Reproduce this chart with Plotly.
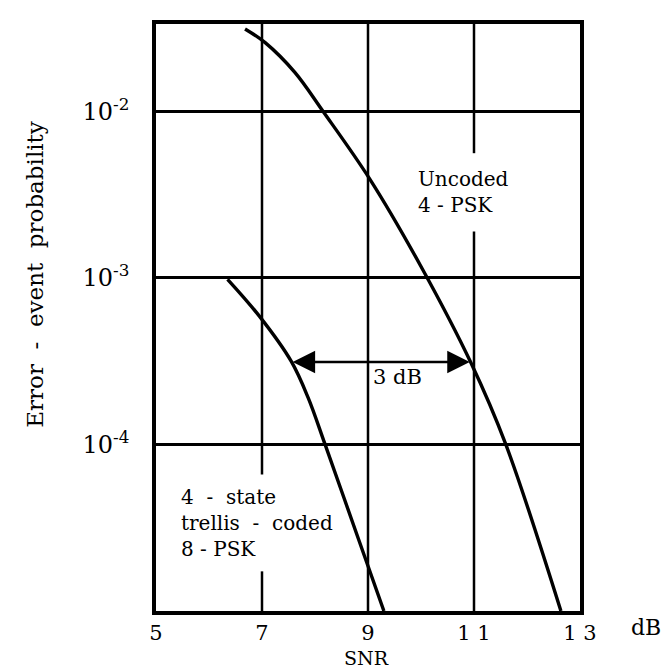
import math
import plotly.graph_objects as go

# ---- data ----
uncoded_snr = [6.68, 7.06, 7.62, 8.15, 9.04, 10.0, 10.94, 11.60, 12.64]
uncoded_p = [3.12e-2, 2.58e-2, 1.71e-2, 1.0e-2, 3.89e-3, 1.17e-3, 3.1e-4, 1.0e-4, 1.0e-5]

coded_snr = [6.35, 6.95, 7.55, 7.87, 8.19, 8.80, 9.30]
coded_p = [9.8e-4, 5.89e-4, 3.16e-4, 1.91e-4, 1.0e-4, 2.82e-5, 1.0e-5]

x_tickvals = [5, 7, 9, 11, 13]
x_ticktext = ["5", "7", "9", "1 1", "1 3"]
y_tickvals = [1e-2, 1e-3, 1e-4]
y_ticktext = ["10<sup>-2</sup>", "10<sup>-3</sup>", "10<sup>-4</sup>"]

arrow_x = [7.55, 10.92]
arrow_p = 3.12e-4

x_range = [5, 13]
y_range = [1e-5, 3.34e-2]

FONT = "DejaVu Serif"
NB = "\u00a0"

fig = go.Figure()

# vertical grid lines (broken where the labels sit)
grid_x = [7, 7, None, 7, 7, None, 9, 9, None, 11, 11, None, 11, 11]
grid_y = [y_range[1], 6.6e-5, None, 1.73e-5, y_range[0], None,
          y_range[1], y_range[0], None,
          y_range[1], 5.6e-3, None, 1.9e-3, y_range[0]]
fig.add_trace(go.Scatter(x=grid_x, y=grid_y, mode="lines",
                         line=dict(color="black", width=2.5),
                         hoverinfo="skip", showlegend=False))

fig.add_trace(go.Scatter(x=uncoded_snr, y=uncoded_p, mode="lines",
                         line=dict(color="black", width=3.4, shape="spline", smoothing=1.0),
                         name="Uncoded 4-PSK", showlegend=False))
fig.add_trace(go.Scatter(x=coded_snr, y=coded_p, mode="lines",
                         line=dict(color="black", width=3.4, shape="spline", smoothing=1.0),
                         name="4-state trellis-coded 8-PSK", showlegend=False))

L, R, T, B = 148, 572, 13, 603
W, H = R - L, B - T


def px(x):
    return (x - L) / W


def py(y):
    return (B - y) / H


annotations = [
    dict(text="", x=arrow_x[1], y=math.log10(arrow_p), xref="x", yref="y",
         ax=arrow_x[0], ay=math.log10(arrow_p), axref="x", ayref="y",
         showarrow=True, arrowhead=2, arrowside="end+start", arrowsize=1.8,
         arrowwidth=2.5, arrowcolor="black", standoff=0, startstandoff=0),
    dict(text="3 dB", x=px(363), y=py(354), xref="paper", yref="paper",
         xanchor="left", yanchor="top", showarrow=False,
         font=dict(family=FONT, size=21, color="black")),
    dict(text="Uncoded<br>4 - PSK", x=px(408), y=py(155), xref="paper", yref="paper",
         xanchor="left", yanchor="top", showarrow=False, align="left",
         font=dict(family=FONT, size=20, color="black")),
    dict(text=f"4 {NB}-{NB} state<br>trellis {NB}-{NB} coded<br>8 - PSK",
         x=px(171), y=py(474), xref="paper", yref="paper",
         xanchor="left", yanchor="top", showarrow=False, align="left",
         font=dict(family=FONT, size=20, color="black")),
    dict(text="SNR", x=px(358), y=py(650), xref="paper", yref="paper",
         xanchor="center", yanchor="middle", showarrow=False,
         font=dict(family=FONT, size=19, color="black")),
    dict(text="dB", x=px(638), y=py(620), xref="paper", yref="paper",
         xanchor="center", yanchor="middle", showarrow=False,
         font=dict(family=FONT, size=22, color="black")),
    dict(text=f"Error {NB}-{NB} event {NB}probability", x=px(27), y=py(265),
         xref="paper", yref="paper", xanchor="center", yanchor="middle",
         textangle=-90, showarrow=False,
         font=dict(family=FONT, size=23, color="black")),
]

fig.update_layout(
    width=669, height=668,
    margin=dict(l=L, r=669 - R, t=T, b=668 - B),
    paper_bgcolor="white", plot_bgcolor="white",
    annotations=annotations,
    showlegend=False,
)
fig.update_xaxes(range=x_range, tickvals=x_tickvals, ticktext=x_ticktext,
                 showgrid=False, zeroline=False, showline=True, mirror=True,
                 linecolor="black", linewidth=3.5, ticks="",
                 ticklabelstandoff=0,
                 tickfont=dict(family=FONT, size=21, color="black"))
fig.update_yaxes(type="log", range=[math.log10(y_range[0]), math.log10(y_range[1])],
                 tickvals=y_tickvals, ticktext=y_ticktext,
                 showgrid=True, gridcolor="black", gridwidth=2.5,
                 zeroline=False, showline=True, mirror=True,
                 linecolor="black", linewidth=3.5, ticks="",
                 ticklabelstandoff=18,
                 tickfont=dict(family=FONT, size=24, color="black"))

fig.write_html("out.html")
